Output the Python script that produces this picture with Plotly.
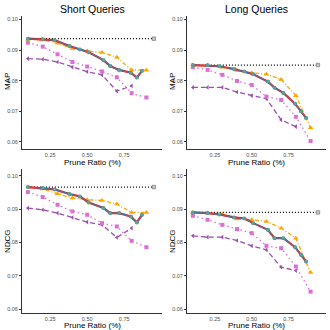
import plotly.graph_objects as go

# ---- data ----
x_main = [0.1, 0.2, 0.28, 0.38, 0.45, 0.51, 0.61, 0.655, 0.715, 0.795, 0.835, 0.87]
x_grid = [0.1, 0.2, 0.3, 0.4, 0.5, 0.6, 0.7, 0.8, 0.9]
x_grid8 = [0.1, 0.2, 0.3, 0.4, 0.5, 0.6, 0.7, 0.8]
x_base = [0.1, 0.95]

main_short_map = [0.0937, 0.0935, 0.0932, 0.0913, 0.0902, 0.0893, 0.0867, 0.0848, 0.0835, 0.0826, 0.0810, 0.0832]
main_long_map = [0.0851, 0.0850, 0.0847, 0.0838, 0.0830, 0.0821, 0.0797, 0.0777, 0.0760, 0.0725, 0.0700, 0.0678]
main_short_ndcg = [0.0966, 0.0963, 0.0959, 0.0945, 0.0938, 0.0920, 0.0903, 0.0888, 0.0888, 0.0878, 0.0860, 0.0883]
main_long_ndcg = [0.0890, 0.0888, 0.0884, 0.0875, 0.0872, 0.0858, 0.0838, 0.0813, 0.0813, 0.0786, 0.0763, 0.0743]

orange_short_map = [0.0935, 0.0933, 0.0922, 0.0905, 0.0897, 0.0892, 0.0876, 0.0835, 0.0834]
orange_long_map = [0.0851, 0.0850, 0.0844, 0.0833, 0.0826, 0.0821, 0.0804, 0.0751, 0.0646]
orange_short_ndcg = [0.0966, 0.0960, 0.0946, 0.0933, 0.0928, 0.0926, 0.0915, 0.0890, 0.0890]
orange_long_ndcg = [0.0890, 0.0888, 0.0885, 0.0870, 0.0868, 0.0863, 0.0843, 0.0813, 0.0710]

magenta_short_map = [0.0924, 0.0911, 0.0886, 0.0861, 0.0846, 0.0830, 0.0811, 0.0759, 0.0745]
magenta_long_map = [0.0844, 0.0835, 0.0819, 0.0799, 0.0786, 0.0748, 0.0737, 0.0682, 0.0603]
magenta_short_ndcg = [0.0951, 0.0936, 0.0913, 0.0893, 0.0883, 0.0858, 0.0848, 0.0805, 0.0786]
magenta_long_ndcg = [0.0880, 0.0868, 0.0853, 0.0840, 0.0828, 0.0790, 0.0783, 0.0728, 0.0653]

purple_short_map = [0.0872, 0.0870, 0.0861, 0.0844, 0.0829, 0.0819, 0.0766, 0.0783]
purple_long_map = [0.0778, 0.0778, 0.0778, 0.0763, 0.0751, 0.0741, 0.0672, 0.0650]
purple_short_ndcg = [0.0903, 0.0898, 0.0888, 0.0875, 0.0861, 0.0853, 0.0815, 0.0843]
purple_long_ndcg = [0.0820, 0.0816, 0.0816, 0.0806, 0.0790, 0.0778, 0.0726, 0.0716]

base_short_map = 0.0937
base_long_map = 0.0851
base_short_ndcg = 0.0966
base_long_ndcg = 0.0890

panel_titles = ["Short Queries", "Long Queries"]
y_titles = ["MAP", "NDCG"]
x_title = "Prune Ratio (%)"
x_ticks = [0.25, 0.50, 0.75]
y_ticks = [0.06, 0.07, 0.08, 0.09, 0.10]

# ---- styles ----
RED = "#E41A1C"
BLUE = "#3A80B0"
GREEN = "#4DAF4A"
ORANGE = "#FFA500"
MAGENTA = "#DA70D6"
PURPLE = "#9A4EAE"

W = H = 330
ML, MR, MT, MB = 22, 4, 16, 16
pw = W - ML - MR
ph = H - MT - MB

def px_dom_x(a, b):
    return [(a - ML) / pw, (b - ML) / pw]

def px_dom_y(top, bottom):
    return [(H - MB - bottom) / ph, (H - MB - top) / ph]

panels = [
    dict(xd=px_dom_x(22, 162), yd=px_dom_y(16, 149), yr=[0.0577, 0.1011],
         main=main_short_map, orange=orange_short_map, magenta=magenta_short_map,
         purple=purple_short_map, base=base_short_map),
    dict(xd=px_dom_x(187, 326), yd=px_dom_y(16, 149), yr=[0.0577, 0.1011],
         main=main_long_map, orange=orange_long_map, magenta=magenta_long_map,
         purple=purple_long_map, base=base_long_map),
    dict(xd=px_dom_x(22, 162), yd=px_dom_y(169, 313), yr=[0.0589, 0.1020],
         main=main_short_ndcg, orange=orange_short_ndcg, magenta=magenta_short_ndcg,
         purple=purple_short_ndcg, base=base_short_ndcg),
    dict(xd=px_dom_x(187, 326), yd=px_dom_y(169, 313), yr=[0.0589, 0.1020],
         main=main_long_ndcg, orange=orange_long_ndcg, magenta=magenta_long_ndcg,
         purple=purple_long_ndcg, base=base_long_ndcg),
]

fig = go.Figure()
layout = {}
for i, p in enumerate(panels):
    n = i + 1
    xa = "x" if n == 1 else f"x{n}"
    ya = "y" if n == 1 else f"y{n}"
    kw = dict(xaxis=xa, yaxis=ya, showlegend=False, hoverinfo="skip")
    # baseline
    fig.add_trace(go.Scatter(x=x_base, y=[p["base"], p["base"]], mode="lines",
                             line=dict(color="black", width=1.2, dash="1px,2px"), **kw))
    fig.add_trace(go.Scatter(x=[x_base[-1]], y=[p["base"]], mode="markers",
                             marker=dict(symbol="square", size=3.5, color="#C8C8C8",
                                         line=dict(color="#666666", width=0.6)), **kw))
    # purple dashed
    fig.add_trace(go.Scatter(x=x_grid8, y=p["purple"], mode="lines+markers",
                             line=dict(color=PURPLE, width=1.3, dash="5px,3px"),
                             marker=dict(symbol="triangle-left", size=4, color=PURPLE), **kw))
    # magenta dotted
    fig.add_trace(go.Scatter(x=x_grid, y=p["magenta"], mode="lines+markers",
                             line=dict(color=MAGENTA, width=1.3, dash="1.5px,3px"),
                             marker=dict(symbol="square", size=4, color=MAGENTA), **kw))
    # orange dash-dot
    fig.add_trace(go.Scatter(x=x_grid, y=p["orange"], mode="lines+markers",
                             line=dict(color=ORANGE, width=1.3, dash="4px,2px,1px,2px"),
                             marker=dict(symbol="triangle-up", size=5, color=ORANGE), **kw))
    # green / red / blue solid
    fig.add_trace(go.Scatter(x=x_main, y=p["main"], mode="markers",
                             marker=dict(symbol="circle", size=4, color=GREEN), **kw))
    fig.add_trace(go.Scatter(x=x_main, y=p["main"], mode="lines",
                             line=dict(color=RED, width=2.2), **kw))
    fig.add_trace(go.Scatter(x=x_main, y=p["main"], mode="lines+markers",
                             line=dict(color=BLUE, width=1.1),
                             marker=dict(symbol="square", size=3, color="#5AA0A8"), **kw))

    xkey = "xaxis" if n == 1 else f"xaxis{n}"
    ykey = "yaxis" if n == 1 else f"yaxis{n}"
    layout[xkey] = dict(domain=p["xd"], range=[0.06, 1.005], anchor=ya,
                        tickvals=x_ticks, ticktext=["0.25", "0.50", "0.75"],
                        showgrid=False, zeroline=False, showline=True,
                        linecolor="#333333", linewidth=1, ticks="",
                        tickfont=dict(size=5.5, color="#4D4D4D", family="Liberation Sans"))
    layout[ykey] = dict(domain=p["yd"], range=p["yr"], anchor=xa,
                        tickvals=y_ticks, ticktext=["0.06", "0.07", "0.08", "0.09", "0.10"],
                        showgrid=False, zeroline=False, showline=True,
                        linecolor="#333333", linewidth=1, ticks="outside",
                        ticklen=2, tickcolor="#333333",
                        tickfont=dict(size=5.5, color="#4D4D4D", family="Liberation Sans"))

annotations = []
font_t = dict(size=10.5, color="black", family="Liberation Sans")
font_a = dict(size=8, color="black", family="Liberation Sans")
for j, t in enumerate(panel_titles):
    cx = (92 if j == 0 else 256)
    annotations.append(dict(text=t, x=cx, y=9, xref="paper", yref="paper", showarrow=False, font=font_t))
    for yc in (162, 325.5):
        annotations.append(dict(text=x_title, x=cx, y=yc, xref="paper", yref="paper",
                                showarrow=False, font=font_a))
    for k, (yt, ycen) in enumerate(zip(y_titles, (82, 241))):
        annotations.append(dict(text=yt, x=(7 if j == 0 else 172), y=ycen, xref="paper", yref="paper",
                                showarrow=False, textangle=-90, font=font_a))

# convert pixel positions to paper coords
for a in annotations:
    a["x"] = (a["x"] - ML) / pw
    a["y"] = (H - MB - a["y"]) / ph
    a["xanchor"] = "center"
    a["yanchor"] = "middle"

fig.update_layout(width=W, height=H, margin=dict(l=ML, r=MR, t=MT, b=MB),
                  paper_bgcolor="white", plot_bgcolor="white",
                  annotations=annotations, **layout)

fig.write_html("out.html", config={"displayModeBar": False},
               post_script="document.body.style.margin='0';document.body.style.overflow='hidden';")
